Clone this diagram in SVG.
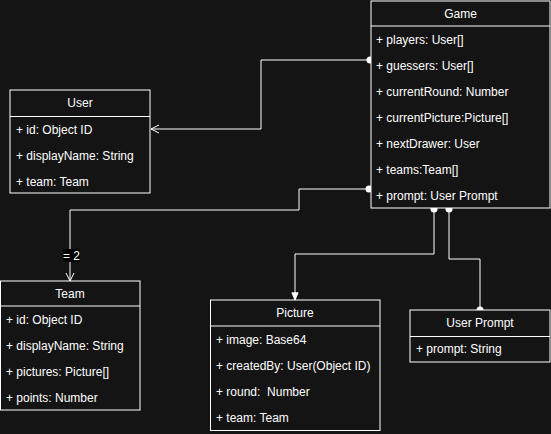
<svg xmlns="http://www.w3.org/2000/svg" width="551" height="434" viewBox="0 0 551 434">
<defs>
<style>
.box{fill:#141414;stroke:#ffffff;stroke-width:1}
.sep{stroke:#ffffff;stroke-width:1}
.t{font-family:"Liberation Sans",Arial,sans-serif;font-size:12px;fill:#ffffff}
.h{text-anchor:middle}
.c{fill:none;stroke:#ffffff;stroke-width:1}
.dot{fill:#ffffff}
</style>
<marker id="open" viewBox="0 0 10 10" refX="9" refY="5" markerWidth="10" markerHeight="10" markerUnits="userSpaceOnUse" orient="auto">
<path d="M1,1 L9,5 L1,9" fill="none" stroke="#ffffff" stroke-width="1"/>
</marker>
<marker id="block" viewBox="0 0 10 10" refX="9" refY="5" markerWidth="9" markerHeight="9" markerUnits="userSpaceOnUse" orient="auto">
<path d="M1,1.5 L9,5 L1,8.5 Z" fill="#ffffff" stroke="#ffffff" stroke-width="1"/>
</marker>
</defs>
<rect x="0" y="0" width="551" height="434" fill="#141414"/>

<g id="connectors">
<path class="c" d="M370,60 L261,60 L261,129 L151,129" marker-end="url(#open)"/>
<circle class="dot" cx="370" cy="60" r="3.5"/>
<path class="c" d="M370,189 L299,189 L299,210 L70,210 L70,281" marker-end="url(#open)"/>
<circle class="dot" cx="369" cy="189" r="3.5"/>
<rect x="63" y="249" width="17" height="13" fill="#000000"/>
<text class="t h" x="71.5" y="259.5" font-size="11px">= 2</text>
<path class="c" d="M434,209 L434,254 L295,254 L295,300" marker-end="url(#block)"/>
<circle class="dot" cx="434" cy="209" r="3.5"/>
<path class="c" d="M449,209 L449,259 L480,259 L480,310"/>
<circle class="dot" cx="449" cy="209" r="3.5"/>
<circle class="dot" cx="480" cy="310" r="3.5"/>
</g>

<g id="game">
<rect class="box" x="371" y="1" width="179" height="207"/>
<line class="sep" x1="371" y1="26" x2="550" y2="26"/>
<text class="t h" x="460.5" y="18">Game</text>
<text class="t" x="376" y="44">+ players: User[]</text>
<text class="t" x="376" y="70">+ guessers: User[]</text>
<text class="t" x="376" y="96">+ currentRound: Number</text>
<text class="t" x="376" y="122">+ currentPicture:Picture[]</text>
<text class="t" x="376" y="148">+ nextDrawer: User</text>
<text class="t" x="376" y="174">+ teams:Team[]</text>
<text class="t" x="376" y="200">+ prompt: User Prompt</text>
</g>

<g id="user">
<rect class="box" x="10" y="90" width="140" height="103"/>
<line class="sep" x1="10" y1="116.5" x2="150" y2="116.5"/>
<text class="t h" x="80" y="107">User</text>
<text class="t" x="16" y="134">+ id: Object ID</text>
<text class="t" x="16" y="160">+ displayName: String</text>
<text class="t" x="16" y="186">+ team: Team</text>
</g>

<g id="team">
<rect class="box" x="0.5" y="281" width="139.5" height="129"/>
<line class="sep" x1="0" y1="306" x2="140" y2="306"/>
<text class="t h" x="70" y="297.5">Team</text>
<text class="t" x="6" y="324">+ id: Object ID</text>
<text class="t" x="6" y="350">+ displayName: String</text>
<text class="t" x="6" y="376">+ pictures: Picture[]</text>
<text class="t" x="6" y="402">+ points: Number</text>
</g>

<g id="picture">
<rect class="box" x="210.5" y="300" width="169.5" height="130.5"/>
<line class="sep" x1="210.5" y1="326" x2="380" y2="326"/>
<text class="t h" x="295" y="316.5">Picture</text>
<text class="t" x="216" y="343.5">+ image: Base64</text>
<text class="t" x="216" y="370">+ createdBy: User(Object ID)</text>
<text class="t" x="216" y="396" xml:space="preserve">+ round:  Number</text>
<text class="t" x="216" y="422">+ team: Team</text>
</g>

<g id="userprompt">
<rect class="box" x="410" y="310" width="140" height="52"/>
<line class="sep" x1="410" y1="336.5" x2="550" y2="336.5"/>
<text class="t h" x="480" y="326.5">User Prompt</text>
<text class="t" x="416" y="352.5">+ prompt: String</text>
</g>
</svg>
